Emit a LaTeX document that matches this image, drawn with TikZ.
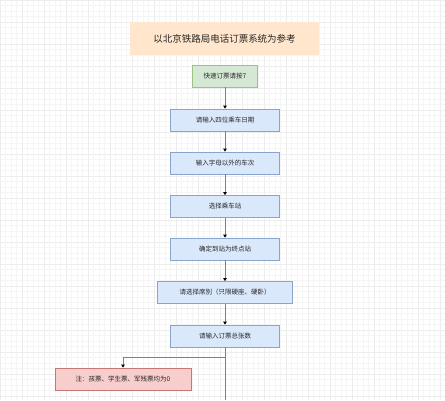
\documentclass[tikz,border=0pt]{standalone}
\usepackage{fontspec}
\usepackage{tikz}
\usetikzlibrary{arrows.meta}
\newfontfamily\cjk{Noto Sans CJK SC}

\definecolor{bluefill}{HTML}{DAE8FC}
\definecolor{blueline}{HTML}{6C8EBF}
\definecolor{greenfill}{HTML}{D5E8D4}
\definecolor{greenline}{HTML}{82B366}
\definecolor{redfill}{HTML}{F8CECC}
\definecolor{redline}{HTML}{B85450}
\definecolor{titlefill}{HTML}{FFE6CC}

\tikzset{
  flowbox/.style={draw=blueline!80, fill=bluefill, line width=0.7pt, inner sep=0pt,
    minimum width=108.5pt, minimum height=22pt,
    font=\cjk\fontsize{6.5}{8}\selectfont, text=black!85},
  startbox/.style={flowbox, draw=greenline!80, fill=greenfill, minimum width=65pt},
  notebox/.style={flowbox, draw=redline!80, fill=redfill, minimum width=136pt},
  flowline/.style={draw=black!50, line width=0.8pt,
    -{Triangle[length=3pt,width=3.5pt,fill=black,color=black]}},
}

\begin{document}
\begin{tikzpicture}[x=1pt,y=-1pt]
\useasboundingbox (0,0) rectangle (445,400);
\fill[white] (0,0) rectangle (445,400);

% background grid
\draw[black!4, line width=0.4pt, step=5.5pt] (0,0) grid (445,400);
\draw[black!7, line width=0.5pt, step=22pt] (0,0) grid (445,400);

% title
\node[fill=titlefill, minimum width=189pt, minimum height=33pt, inner sep=0pt,
  font=\cjk\fontsize{9.5}{11}\selectfont, text=black!85] (title) at (224.5,38.7)
  {以北京铁路局电话订票系统为参考};

% steps
\node[startbox] (start) at (225,76) {快速订票请按7};
\node[flowbox] (date) at (225,120) {请输入四位乘车日期};
\node[flowbox] (train) at (225,163) {输入字母以外的车次};
\node[flowbox] (from) at (225,206.5) {选择乘车站};
\node[flowbox] (dest) at (225,249) {确定到站为终点站};
\node[flowbox, minimum width=135.5pt] (seat) at (225,292.5) {请选择席别（只限硬座、硬卧）};
\node[flowbox] (count) at (225,336) {请输入订票总张数};
\node[notebox] (note) at (123,379) {注：孩票、学生票、军残票均为0};

\coordinate (split) at (225,357.7);
\coordinate (bottom) at (225,400);

\draw[flowline] (start) -- (date);
\draw[flowline] (date) -- (train);
\draw[flowline] (train) -- (from);
\draw[flowline] (from) -- (dest);
\draw[flowline] (dest) -- (seat);
\draw[flowline] (seat) -- (count);
\draw[draw=black!50, line width=0.8pt] (count) -- (bottom);
\draw[flowline] (split) -| (note.north);

\end{tikzpicture}
\end{document}
